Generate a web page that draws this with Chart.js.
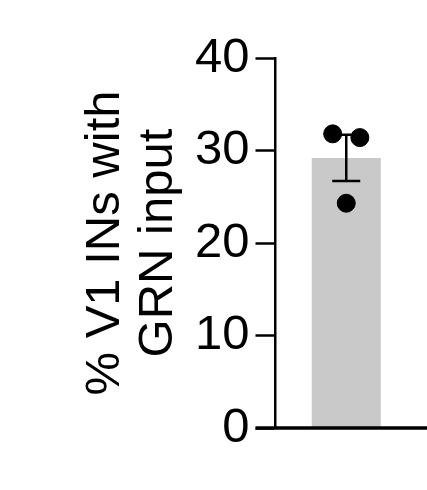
<!DOCTYPE html>
<html>
<head>
<meta charset="utf-8">
<script src="https://cdn.jsdelivr.net/npm/chart.js@4/dist/chart.umd.min.js"></script>
<style>
  html, body { margin: 0; padding: 0; background: #fff; }
  #wrap { width: 427px; height: 490px; }
</style>
</head>
<body>
<div id="wrap"><canvas id="c"></canvas></div>
<script>
// data
var categories = ['GRN'];
var meanValues = [29.2];
var semValues = [2.5];
var pointValues = [31.8, 31.4, 24.3];
// horizontal spread of the dots (category units), so they don't overlap
var dotJitter = [-0.096, 0.096, 0];
var yTicks = [0, 10, 20, 30, 40];

var FONT = "'Liberation Sans', Arial, sans-serif";

// error bar, drawn right after the bar and before the dots
var errorBars = {
    id: 'errorBars',
    afterDatasetDraw: function (chart, args) {
        if (args.index !== 1) return;
        var ctx = chart.ctx;
        var x = chart.scales.x;
        var y = chart.scales.y;
        ctx.save();
        ctx.strokeStyle = '#000';
        ctx.lineWidth = 2.5;
        meanValues.forEach(function (m, i) {
            var cx = x.getPixelForValue(i);
            var top = y.getPixelForValue(m + semValues[i]);
            var bot = y.getPixelForValue(m - semValues[i]);
            ctx.beginPath();
            ctx.moveTo(cx, top);
            ctx.lineTo(cx, bot);
            ctx.moveTo(cx - 14, top);
            ctx.lineTo(cx + 14, top);
            ctx.moveTo(cx - 14, bot);
            ctx.lineTo(cx + 14, bot);
            ctx.stroke();
        });
        ctx.restore();
    }
};

// x axis baseline, running from the y ticks to the right edge
var baseLine = {
    id: 'baseLine',
    afterDraw: function (chart) {
        var ctx = chart.ctx;
        var y0 = chart.scales.y.getPixelForValue(0);
        ctx.save();
        ctx.strokeStyle = '#000';
        ctx.lineWidth = 3.5;
        ctx.beginPath();
        ctx.moveTo(chart.chartArea.left - 20, y0);
        ctx.lineTo(chart.width, y0);
        ctx.stroke();
        ctx.restore();
    }
};

var ctx = document.getElementById('c').getContext('2d');
var chart = new Chart(ctx, {
    type: 'bar',
    data: {
        labels: categories,
        datasets: [{
            type: 'scatter',
            data: pointValues.map(function (v, i) { return {x: dotJitter[i], y: v}; }),
            xAxisID: 'xDots',
            backgroundColor: '#000',
            borderColor: '#000',
            pointRadius: 9,
            order: 0
        }, {
            type: 'bar',
            data: meanValues,
            backgroundColor: '#c9c9c9',
            borderWidth: 0,
            grouped: false,
            maxBarThickness: 69,
            order: 1
        }]
    },
    options: {
        responsive: true,
        maintainAspectRatio: false,
        animation: false,
        layout: {
            padding: {left: 79, top: 58, right: 7, bottom: 62}
        },
        plugins: {
            legend: {display: false},
            tooltip: {enabled: false}
        },
        scales: {
            x: {
                display: false
            },
            // same span as the single category, without the bar-chart offset
            xDots: {
                type: 'linear',
                display: false,
                offset: false,
                min: -0.5,
                max: 0.5
            },
            y: {
                min: 0,
                max: 40,
                afterBuildTicks: function (axis) {
                    axis.ticks = yTicks.map(function (v) { return {value: v}; });
                },
                // the layout caps side axes at half the width, so set it here
                afterFit: function (axis) {
                    axis.width = 196.5;
                },
                border: {display: true, color: '#000', width: 2.5},
                grid: {
                    drawOnChartArea: false,
                    drawTicks: true,
                    tickLength: 20,
                    tickColor: '#000',
                    tickWidth: 2.5
                },
                ticks: {
                    color: '#000',
                    padding: 6,
                    font: {family: FONT, size: 49}
                },
                title: {
                    display: true,
                    text: ['% V1 INs with', 'GRN input'],
                    color: '#000',
                    padding: {top: 0, bottom: 10},
                    font: {family: FONT, size: 49, lineHeight: 1.08}
                }
            }
        }
    },
    plugins: [errorBars, baseLine]
});
</script>
</body>
</html>
